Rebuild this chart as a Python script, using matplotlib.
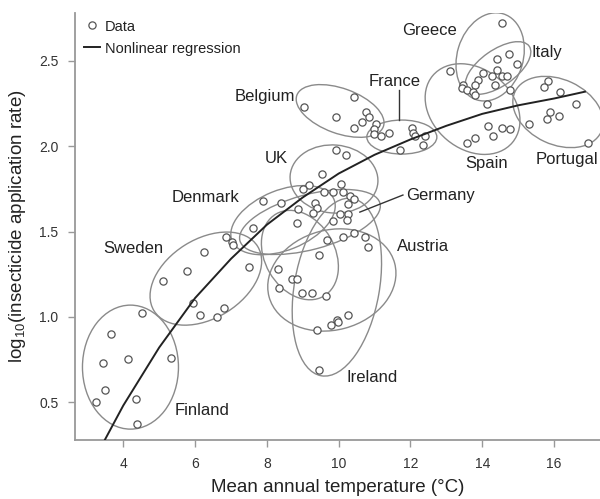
import matplotlib
matplotlib.use("Agg")
import matplotlib.pyplot as plt
from matplotlib.patches import Ellipse
from matplotlib import transforms
from matplotlib.lines import Line2D

plt.rcParams['font.family'] = ['Liberation Sans', 'DejaVu Sans']

# ---------------- data ----------------
finland_x = [4.53, 3.66, 3.43, 4.12, 5.33, 3.50, 3.23, 4.36, 4.37]
finland_y = [1.02, 0.90, 0.73, 0.75, 0.76, 0.57, 0.50, 0.52, 0.37]

sweden_x = [6.26, 5.77, 5.11, 5.93, 6.14, 6.60, 6.81, 7.51]
sweden_y = [1.38, 1.27, 1.21, 1.08, 1.01, 1.00, 1.05, 1.29]

denmark_x = [7.90, 8.38, 7.60, 6.87, 7.04, 7.05]
denmark_y = [1.68, 1.67, 1.52, 1.47, 1.44, 1.42]

uk_x = [9.93, 10.20, 9.53, 9.18, 9.01, 9.59, 9.83, 10.06]
uk_y = [1.98, 1.95, 1.84, 1.77, 1.75, 1.73, 1.73, 1.78]

germany_x = [10.11, 10.32, 10.43, 10.27, 9.34, 9.39, 9.29, 8.88, 10.04, 10.27, 10.22, 9.83, 8.83]
germany_y = [1.73, 1.71, 1.69, 1.66, 1.67, 1.64, 1.61, 1.63, 1.60, 1.60, 1.57, 1.56, 1.55]

austria_x = [9.67, 10.11, 10.43, 10.72, 10.83, 9.46, 9.94, 10.27, 9.99, 9.78, 9.40]
austria_y = [1.45, 1.47, 1.49, 1.47, 1.41, 1.36, 0.98, 1.01, 0.97, 0.95, 0.92]

ireland_x = [8.32, 8.69, 8.83, 8.34, 8.97, 9.25, 9.64, 9.45]
ireland_y = [1.28, 1.22, 1.22, 1.17, 1.14, 1.14, 1.12, 0.69]

belgium_x = [9.03, 10.43, 9.92, 10.76, 10.85, 10.66, 10.43, 11.03, 10.99]
belgium_y = [2.23, 2.29, 2.17, 2.20, 2.17, 2.14, 2.11, 2.13, 2.10]

france_x = [10.99, 11.17, 11.39, 12.05, 12.08, 12.12, 12.40, 12.36, 11.71]
france_y = [2.07, 2.06, 2.08, 2.11, 2.08, 2.06, 2.06, 2.01, 1.98]

greece_x = [14.54, 14.12]
greece_y = [2.72, 2.25]

italy_x = [14.75, 14.40, 14.98, 14.02, 14.40, 14.26, 14.54, 14.68, 14.35,
           13.89, 13.80, 13.47, 13.43, 13.57, 13.75, 13.80, 14.77]
italy_y = [2.54, 2.51, 2.48, 2.43, 2.45, 2.41, 2.41, 2.41, 2.36,
           2.39, 2.36, 2.36, 2.34, 2.33, 2.32, 2.30, 2.33]

spain_x = [13.10, 14.17, 14.31, 14.54, 14.76, 13.80, 13.57]
spain_y = [2.44, 2.12, 2.06, 2.11, 2.10, 2.05, 2.02]

portugal_x = [15.83, 15.72, 16.16, 16.62, 15.89, 16.13, 15.81, 15.31, 16.94]
portugal_y = [2.38, 2.35, 2.32, 2.25, 2.20, 2.18, 2.16, 2.13, 2.02]

# nonlinear regression curve
curve_x = [3.49, 4, 5, 6, 7, 8, 9, 10, 11, 12, 13, 14, 15, 16, 16.86]
curve_y = [0.28, 0.48, 0.82, 1.11, 1.34, 1.54, 1.70, 1.84, 1.95, 2.04, 2.12, 2.19, 2.24, 2.28, 2.32]

x_ticks = [4, 6, 8, 10, 12, 14, 16]
y_ticks = [0.5, 1.0, 1.5, 2.0, 2.5]

# ---------------- annotations: (name, x, y, ha) ----------------
labels = [
    ("Finland", 5.44, 0.45, "left"),
    ("Sweden", 4.27, 1.40, "center"),
    ("Denmark", 6.30, 1.70, "center"),
    ("UK", 8.27, 1.93, "center"),
    ("Belgium", 7.95, 2.29, "center"),
    ("France", 11.57, 2.38, "center"),
    ("Greece", 12.54, 2.68, "center"),
    ("Italy", 15.36, 2.55, "left"),
    ("Spain", 14.13, 1.90, "center"),
    ("Portugal", 17.22, 1.92, "right"),
    ("Germany", 11.88, 1.71, "left"),
    ("Austria", 11.62, 1.415, "left"),
    ("Ireland", 10.23, 0.645, "left"),
]

# ellipses: centre (data), width/height (pixels), angle (deg)
ellipses = [
    (4.20, 0.705, 96, 124, 0),     # Finland
    (6.30, 1.224, 122, 79, 32),    # Sweden
    (8.45, 1.567, 110, 60, 22),    # Denmark
    (9.87, 1.808, 88, 68, -5),     # UK
    (9.20, 1.556, 145, 55, 15),    # Germany
    (9.81, 1.216, 130, 100, 15),   # Austria
    (9.95, 1.174, 85, 180, -10),   # Ireland
    (8.92, 1.362, 70, 95, 30),     # extra
    (10.04, 2.207, 92, 45, -20),   # Belgium
    (11.76, 2.054, 70, 34, 0),     # France
    (14.22, 2.524, 90, 66, 73),    # Greece
    (14.44, 2.459, 76, 36, 35),    # Italy
    (13.73, 2.218, 104, 80, -40),  # Spain
    (16.11, 2.201, 95, 65, -25),   # Portugal
]

fig = plt.figure(figsize=(6.0, 4.99), dpi=100)
ax = fig.add_axes([0.125, 0.118, 0.875, 0.8565])
ax.set_xlim(2.655, 17.28)
ax.set_ylim(0.277, 2.783)

grey = "#8a8a8a"

for cx, cy, w, h, ang in ellipses:
    tr = fig.dpi_scale_trans + transforms.ScaledTranslation(cx, cy, ax.transData)
    e = Ellipse((0, 0), w / 100.0, h / 100.0, angle=ang, transform=tr,
                fill=False, edgecolor=grey, linewidth=1.0, zorder=2)
    ax.add_patch(e)

all_x = (finland_x + sweden_x + denmark_x + uk_x + germany_x + austria_x + ireland_x
         + belgium_x + france_x + greece_x + italy_x + spain_x + portugal_x)
all_y = (finland_y + sweden_y + denmark_y + uk_y + germany_y + austria_y + ireland_y
         + belgium_y + france_y + greece_y + italy_y + spain_y + portugal_y)
ax.plot(all_x, all_y, linestyle="none", marker="o", markersize=5.2,
        markerfacecolor="white", markeredgecolor="#555555", markeredgewidth=0.9, zorder=3)

ax.plot(curve_x, curve_y, color="#222222", linewidth=1.4, zorder=4)

for name, lx, ly, ha in labels:
    ax.text(lx, ly, name, ha=ha, va="center", fontsize=12, color="#222222", zorder=5)

# leader lines
ax.plot([11.69, 11.69], [2.33, 2.155], color="#333333", linewidth=1.0, zorder=5)
ax.plot([11.79, 10.59], [1.714, 1.614], color="#333333", linewidth=1.0, zorder=5)

for s in ["top", "right"]:
    ax.spines[s].set_visible(False)
for s in ["left", "bottom"]:
    ax.spines[s].set_color("#999999")
    ax.spines[s].set_linewidth(1.3)

ax.set_xticks(x_ticks)
ax.set_xticklabels([str(t) for t in x_ticks])
ax.set_yticks(y_ticks)
ax.set_yticklabels(["%.1f" % t for t in y_ticks])
ax.tick_params(direction="out", length=5, width=1.0, color="#999999",
               labelsize=10, labelcolor="#333333", pad=7)

ax.set_xlabel("Mean annual temperature (\u00b0C)", fontsize=13.5, color="#222222", labelpad=6)
ax.set_ylabel(r"log$_{\mathregular{10}}$(insecticide application rate)", fontsize=13.5,
              color="#222222", labelpad=8)

handles = [
    Line2D([], [], linestyle="none", marker="o", markersize=5.2, markerfacecolor="white",
           markeredgecolor="#555555", markeredgewidth=0.9),
    Line2D([], [], color="#222222", linewidth=1.4),
]
ax.legend(handles, ["Data", "Nonlinear regression"], loc="upper left",
          bbox_to_anchor=(0.017, 0.984), frameon=False, fontsize=10.5,
          handlelength=1.1, handletextpad=0.35, labelspacing=0.55,
          borderaxespad=0, borderpad=0, labelcolor="#222222")

fig.savefig("out.png", dpi=100)
